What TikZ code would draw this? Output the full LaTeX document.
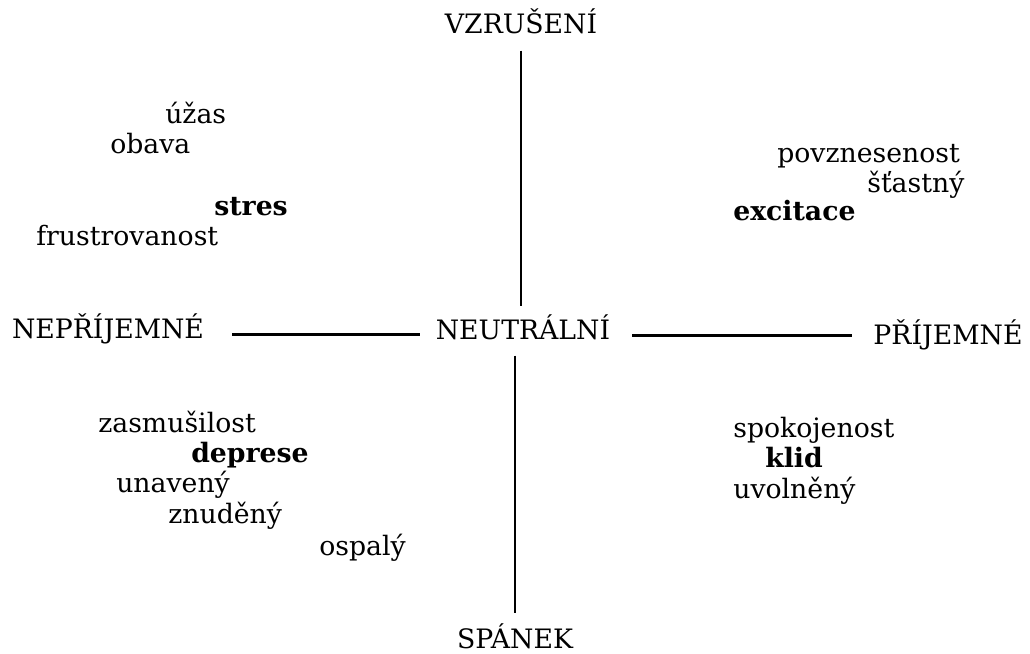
\documentclass[tikz,border=0pt]{standalone}
\usepackage{fontspec}
\setmainfont{DejaVu Serif}
\usepackage{tikz}
\usetikzlibrary{positioning}
\tikzset{
  pole/.style={anchor=base, inner sep=0pt, font=\fontsize{19}{22}\selectfont},
  word/.style={anchor=base west, inner sep=0pt, font=\fontsize{19}{22}\selectfont},
  strong/.style={word, font=\fontsize{19}{22}\selectfont\bfseries},
  axis/.style={line width=2pt, black},
}

\begin{document}
\begin{tikzpicture}[x=0.025cm,y=-0.025cm]
    \useasboundingbox (0,0) rectangle (1030,653);
    % poles of the two axes
    \node[pole] (vz) at (521,33) {VZRUŠENÍ};
    \node[pole] (nep) at (108,338) {NEPŘÍJEMNÉ};
    \node[pole] (neu) at (523,339) {NEUTRÁLNÍ};
    \node[pole] (pri) at (948,344) {PŘÍJEMNÉ};
    \node[pole] (sp) at (515,648) {SPÁNEK};
    % upper left
    \node[word] (uzas) at (165,123) {úžas};
    \node[word] (obava) at (110,153) {obava};
    \node[strong] (stres) at (214,215) {stres};
    \node[word] (frus) at (36,245) {frustrovanost};
    % upper right
    \node[word] (povz) at (777,162) {povznesenost};
    \node[word] (stast) at (867,192) {šťastný};
    \node[strong] (exc) at (733,220) {excitace};
    % lower left
    \node[word] (zasm) at (98,432) {zasmušilost};
    \node[strong] (depr) at (191,462) {deprese};
    \node[word] (unav) at (116,492) {unavený};
    \node[word] (znud) at (168,523) {znuděný};
    \node[word] (ospa) at (319,555) {ospalý};
    % lower right
    \node[word] (spok) at (733,437) {spokojenost};
    \node[strong] (klid) at (765,467) {klid};
    \node[word] (uvol) at (733,498) {uvolněný};
    % axes
    \draw[axis, shorten <=0.425cm, shorten >=0.2cm] (vz.south) -- (vz.south |- neu.north);
    \draw[axis, shorten <=0.4cm, shorten >=0.25cm] (sp.north |- neu.south) -- (sp.north);
    \draw[axis, shorten <=0.7cm, shorten >=0.38cm] (nep.mid east) -- (nep.mid east -| neu.west);
    \draw[axis, shorten <=0.55cm, shorten >=0.525cm] (neu.mid east) -- (neu.mid east -| pri.west);
\end{tikzpicture}
\end{document}
